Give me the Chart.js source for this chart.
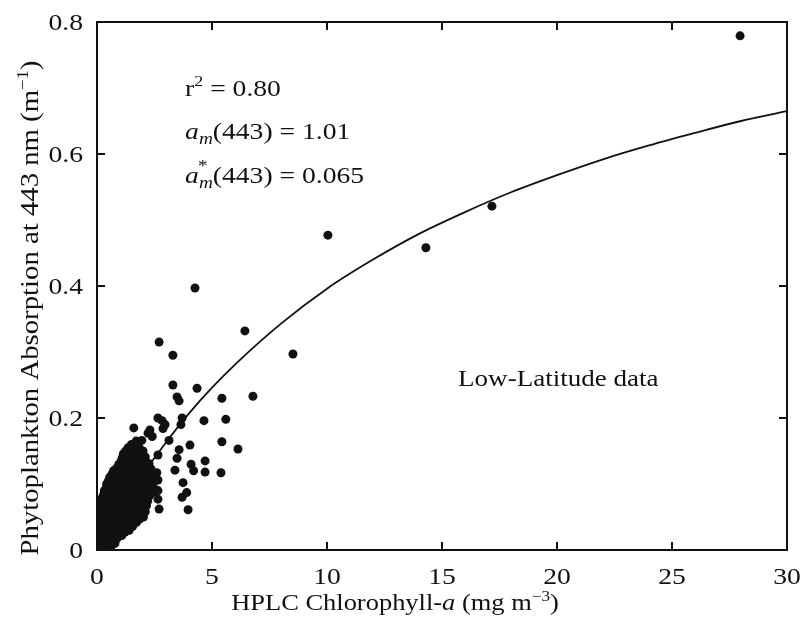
<!DOCTYPE html>
<html>
<head>
<meta charset="utf-8">
<title>Phytoplankton absorption vs HPLC chlorophyll-a</title>
<script src="https://cdn.jsdelivr.net/npm/chart.js@4.4.1/dist/chart.umd.min.js"></script>
<style>
  body { margin: 0; background: #fff; }
  canvas { display: block; }
</style>
</head>
<body>
<canvas id="myChart" width="806" height="621"></canvas>
<script>
// HPLC chlorophyll-a (mg m-3)
let chl = [
    // dense cluster near the origin
    0.05, 0.2, 0.35, 0.5, 0.62,
    0.08, 0.27, 0.46, 0.66, 0.86,
    0.1, 0.3, 0.55, 0.8, 1.02, 1.22,
    0.06, 0.3, 0.56, 0.8, 1.05, 1.3, 1.55,
    0.1, 0.35, 0.6, 0.85, 1.1, 1.35, 1.6, 1.85, 2.02,
    0.05, 0.3, 0.55, 0.8, 1.05, 1.3, 1.55, 1.8, 2.1,
    0.15, 0.4, 0.65, 0.9, 1.15, 1.4, 1.65, 1.9, 2.15,
    0.2, 0.45, 0.7, 0.95, 1.2, 1.45, 1.7, 1.95, 2.2,
    0.3, 0.55, 0.8, 1.05, 1.3, 1.55, 1.8, 2.05, 2.3,
    0.4, 0.65, 0.9, 1.15, 1.4, 1.65, 1.9, 2.15, 2.45,
    0.5, 0.75, 1.0, 1.25, 1.5, 1.75, 2.0, 2.3, 2.6,
    0.65, 0.9, 1.15, 1.4, 1.65, 1.9, 2.15, 2.4,
    0.85, 1.1, 1.35, 1.6, 1.85, 2.1, 2.35,
    1.05, 1.3, 1.55, 1.8, 2.05,
    1.15, 1.4, 1.65, 1.9,
    1.35, 1.6, 1.85,
    1.7, 1.95,
    // cluster, in-between rows
    0.12, 0.38, 0.62, 0.78,
    0.15, 0.4, 0.65, 0.9, 1.08,
    0.18, 0.43, 0.68, 0.93, 1.18, 1.4,
    0.2, 0.45, 0.7, 0.95, 1.2, 1.45, 1.72,
    0.2, 0.45, 0.7, 0.95, 1.2, 1.45, 1.7, 1.95,
    0.06, 0.28, 0.53, 0.78, 1.03, 1.28, 1.53, 1.78, 2.03,
    0.14, 0.33, 0.58, 0.83, 1.08, 1.33, 1.58, 1.83, 2.08,
    0.24, 0.47, 0.72, 0.97, 1.22, 1.47, 1.72, 1.97, 2.22,
    0.32, 0.55, 0.8, 1.05, 1.3, 1.55, 1.8, 2.05, 2.3,
    0.42, 0.67, 0.92, 1.17, 1.42, 1.67, 1.92, 2.17, 2.42,
    0.55, 0.8, 1.05, 1.3, 1.55, 1.8, 2.05, 2.3, 2.5,
    0.72, 0.97, 1.22, 1.47, 1.72, 1.97, 2.22,
    0.95, 1.2, 1.45, 1.7, 1.95, 2.2,
    1.1, 1.35, 1.6, 1.85, 2.1,
    1.25, 1.5, 1.75, 2.0,
    1.5, 1.75,
    // scattered points
    1.6, 2.3, 2.22, 2.4, 2.65, 2.83, 2.96, 2.87, 3.13, 3.7,
    3.65, 4.65, 4.04, 3.57, 3.48, 4.7, 4.09, 3.39, 4.2, 4.7,
    5.39, 2.65, 2.26, 2.6, 2.65, 3.74, 3.9, 3.7, 2.65, 2.52,
    2.65, 2.7, 3.96, 5.43, 6.13, 5.6, 5.43, 6.78, 4.35, 3.3,
    3.48, 3.57, 3.3, 2.7, 4.26, 6.43, 8.52, 10.04, 14.3, 17.17,
    27.96
];
// phytoplankton absorption at 443 nm (m-1)
let absorption = [
    0.004, 0.006, 0.005, 0.003, 0.006,
    0.015, 0.013, 0.016, 0.014, 0.017,
    0.026, 0.024, 0.027, 0.025, 0.024, 0.027,
    0.036, 0.034, 0.035, 0.037, 0.033, 0.035, 0.036,
    0.045, 0.046, 0.044, 0.047, 0.045, 0.043, 0.046, 0.047, 0.05,
    0.056, 0.054, 0.057, 0.055, 0.056, 0.054, 0.056, 0.057, 0.058,
    0.066, 0.064, 0.065, 0.067, 0.064, 0.066, 0.065, 0.064, 0.067,
    0.075, 0.077, 0.074, 0.076, 0.075, 0.073, 0.076, 0.075, 0.074,
    0.085, 0.084, 0.086, 0.085, 0.087, 0.084, 0.085, 0.086, 0.083,
    0.094, 0.096, 0.095, 0.094, 0.097, 0.095, 0.093, 0.096, 0.095,
    0.105, 0.104, 0.106, 0.105, 0.103, 0.106, 0.105, 0.104, 0.106,
    0.115, 0.116, 0.114, 0.115, 0.117, 0.114, 0.116, 0.115,
    0.124, 0.126, 0.125, 0.124, 0.126, 0.125, 0.123,
    0.135, 0.134, 0.136, 0.135, 0.133,
    0.146, 0.145, 0.144, 0.146,
    0.155, 0.156, 0.154,
    0.165, 0.166,
    0.010, 0.011, 0.009, 0.010,
    0.020, 0.021, 0.019, 0.020, 0.022,
    0.030, 0.031, 0.029, 0.030, 0.031, 0.030,
    0.040, 0.041, 0.039, 0.040, 0.041, 0.040, 0.042,
    0.050, 0.051, 0.049, 0.050, 0.051, 0.050, 0.052, 0.053,
    0.060, 0.061, 0.059, 0.060, 0.061, 0.060, 0.062, 0.060, 0.061,
    0.070, 0.071, 0.069, 0.070, 0.071, 0.070, 0.069, 0.071, 0.070,
    0.080, 0.081, 0.079, 0.080, 0.081, 0.080, 0.079, 0.081, 0.080,
    0.090, 0.091, 0.089, 0.090, 0.091, 0.090, 0.089, 0.091, 0.090,
    0.100, 0.101, 0.099, 0.100, 0.101, 0.100, 0.099, 0.101, 0.100,
    0.110, 0.111, 0.109, 0.110, 0.111, 0.110, 0.109, 0.111, 0.110,
    0.120, 0.121, 0.119, 0.120, 0.121, 0.120, 0.119,
    0.130, 0.131, 0.129, 0.130, 0.131, 0.130,
    0.140, 0.141, 0.139, 0.140, 0.141,
    0.150, 0.151, 0.149, 0.150,
    0.160, 0.161,
    0.185, 0.182, 0.177, 0.172, 0.2, 0.196, 0.19, 0.184, 0.166, 0.2,
    0.19, 0.196, 0.159, 0.152, 0.139, 0.135, 0.13, 0.121, 0.12, 0.118,
    0.117, 0.144, 0.131, 0.117, 0.106, 0.102, 0.087, 0.08, 0.09, 0.088,
    0.077, 0.062, 0.061, 0.164, 0.153, 0.198, 0.23, 0.233, 0.245, 0.25,
    0.232, 0.226, 0.295, 0.315, 0.397, 0.332, 0.297, 0.477, 0.458, 0.521,
    0.779
];

// fitted curve
let fitChl = [0, 0.5, 1, 2, 3, 4, 5, 6, 8, 10, 12, 14, 16, 18, 20, 22, 24, 26, 28, 30];
let fitAbs = [0, 0.032, 0.061, 0.115, 0.163, 0.207, 0.246, 0.281, 0.343, 0.396, 0.44, 0.479, 0.512, 0.542, 0.568, 0.592, 0.613, 0.632, 0.65, 0.665];

let xTicks = [0, 5, 10, 15, 20, 25, 30];
let xTickLabels = ["0", "5", "10", "15", "20", "25", "30"];
let yTicks = [0, 0.2, 0.4, 0.6, 0.8];
let yTickLabels = ["0", "0.2", "0.4", "0.6", "0.8"];

const INK = "#111";
const SX = 1.15; // the printed serif runs wider than Times

function font(size, italic) {
    return (italic ? "italic " : "") + size + "px 'Liberation Serif', 'Times New Roman', serif";
}

// draws a run of text parts (sub/superscripts, italics), stretched a little
function drawRich(ctx, parts, x, y, size, align) {
    let total = 0;
    parts.forEach((p) => {
        ctx.font = font(size * (p.s || 1), p.i);
        p.w = ctx.measureText(p.t).width * SX;
        if (p.adv !== false) total += p.w;
    });
    let cx = x;
    if (align === "right") cx = x - total;
    if (align === "center") cx = x - total / 2;
    parts.forEach((p) => {
        ctx.save();
        ctx.translate(cx + (p.dx || 0), y + (p.dy || 0));
        ctx.scale(SX, 1);
        ctx.font = font(size * (p.s || 1), p.i);
        ctx.fillText(p.t, 0, 0);
        ctx.restore();
        if (p.adv !== false) cx += p.w;
    });
}

const frame = {
    id: "frame",
    afterDraw(chart) {
        const ctx = chart.ctx;
        const a = chart.chartArea;
        const x = chart.scales.x;
        const y = chart.scales.y;
        ctx.save();
        ctx.strokeStyle = INK;
        ctx.fillStyle = INK;
        ctx.lineWidth = 2;
        ctx.strokeRect(a.left, a.top, a.right - a.left, a.bottom - a.top);

        // inward ticks on all four sides
        ctx.beginPath();
        xTicks.forEach((v) => {
            let px = x.getPixelForValue(v);
            ctx.moveTo(px, a.bottom);
            ctx.lineTo(px, a.bottom - 8);
            ctx.moveTo(px, a.top);
            ctx.lineTo(px, a.top + 8);
        });
        yTicks.forEach((v) => {
            let py = y.getPixelForValue(v);
            ctx.moveTo(a.left, py);
            ctx.lineTo(a.left + 8, py);
            ctx.moveTo(a.right, py);
            ctx.lineTo(a.right - 8, py);
        });
        ctx.stroke();

        ctx.textBaseline = "alphabetic";
        xTicks.forEach((v, i) => {
            drawRich(ctx, [{ t: xTickLabels[i] }], x.getPixelForValue(v), a.bottom + 34, 24, "center");
        });
        yTicks.forEach((v, i) => {
            drawRich(ctx, [{ t: yTickLabels[i] }], a.left - 14, y.getPixelForValue(v) + 8, 24, "right");
        });

        // axis titles
        drawRich(ctx, [
            { t: "HPLC Chlorophyll-" },
            { t: "a", i: true },
            { t: " (mg m" },
            { t: "\u22123", s: 0.65, dy: -9 },
            { t: ")" },
        ], 395, 610, 23, "center");

        ctx.save();
        ctx.translate(38, 308);
        ctx.rotate(-Math.PI / 2);
        drawRich(ctx, [
            { t: "Phytoplankton Absorption at 443 nm (m" },
            { t: "\u22121", s: 0.65, dy: -10 },
            { t: ")" },
        ], 0, 0, 25, "center");
        ctx.restore();

        // fit statistics and panel label
        let lx = x.getPixelForValue(3.83);
        drawRich(ctx, [
            { t: "r" },
            { t: "2", s: 0.65, dy: -10 },
            { t: " = 0.80" },
        ], lx, y.getPixelForValue(0.688), 24, "left");
        drawRich(ctx, [
            { t: "a", i: true },
            { t: "m", i: true, s: 0.7, dy: 5 },
            { t: "(443) = 1.01" },
        ], lx, y.getPixelForValue(0.623), 24, "left");
        drawRich(ctx, [
            { t: "a", i: true },
            { t: "*", s: 0.7, dy: -12, dx: -1, adv: false },
            { t: "m", i: true, s: 0.7, dy: 5 },
            { t: "(443) = 0.065" },
        ], lx, y.getPixelForValue(0.556), 24, "left");
        drawRich(ctx, [{ t: "Low-Latitude data" }], x.getPixelForValue(15.7), y.getPixelForValue(0.248), 23.5, "left");

        ctx.restore();
    },
};

let points = chl.map((c, i) => ({ x: c, y: absorption[i] }));
let curve = fitChl.map((c, i) => ({ x: c, y: fitAbs[i] }));

let chart = new Chart("myChart", {
    type: "scatter",
    data: {
        datasets: [
            {
                type: "line",
                data: curve,
                borderColor: INK,
                borderWidth: 1.8,
                pointRadius: 0,
                fill: false,
                cubicInterpolationMode: "monotone",
            },
            {
                data: points,
                backgroundColor: INK,
                borderWidth: 0,
                pointRadius: 4.5,
            },
        ],
    },
    options: {
        responsive: false,
        animation: false,
        layout: { padding: { top: 22, right: 19, left: 0, bottom: 0 } },
        plugins: {
            legend: { display: false },
            tooltip: { enabled: false },
        },
        scales: {
            x: {
                type: "linear",
                min: 0,
                max: 30,
                ticks: { display: false, stepSize: 5 },
                grid: { display: false },
                border: { display: false },
                afterFit: (s) => { s.height = 71; },
            },
            y: {
                min: 0,
                max: 0.8,
                ticks: { display: false, stepSize: 0.2 },
                grid: { display: false },
                border: { display: false },
                afterFit: (s) => { s.width = 97; },
            },
        },
    },
    plugins: [frame],
});
</script>
</body>
</html>
